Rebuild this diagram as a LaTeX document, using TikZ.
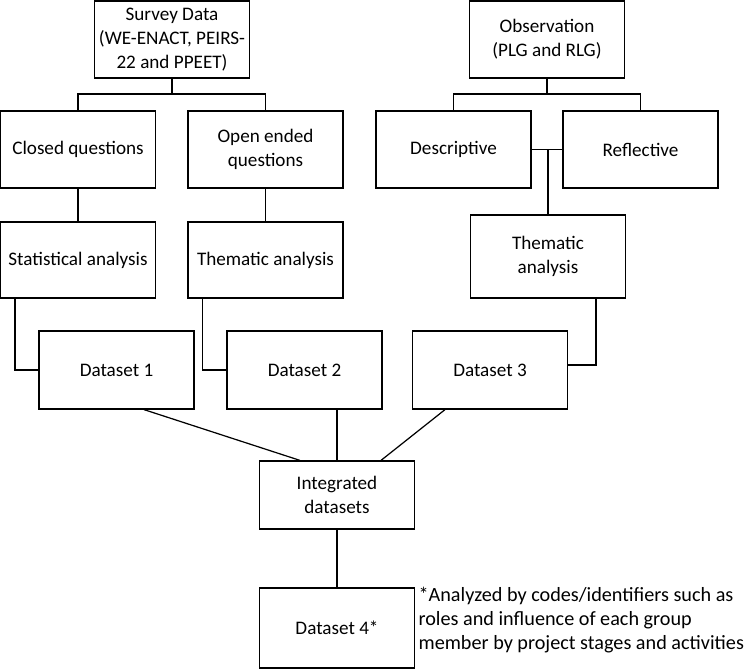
\documentclass[tikz,border=0pt]{standalone}
\usepackage{fontspec}
\setmainfont{Carlito}
\begin{document}
\begin{tikzpicture}[x=0.02cm,y=-0.02cm,line width=0.7pt,
  box/.style={draw,align=center,minimum width=3.1cm,minimum height=1.54cm,
    inner xsep=0.5pt,inner ysep=1pt,font=\fontsize{10.9}{13.5}\selectfont}]
  \useasboundingbox (0,0) rectangle (750,670);

  % sources
  \node[box] (sd) at (172,39.5) {Survey Data\\(WE-ENACT, PEIRS-\\22 and PPEET)};
  \node[box] (ob) at (547,39.5) {Observation\\(PLG and RLG)};
  \coordinate (sj) at (172,94);
  \coordinate (oj) at (547,94);

  \node[box] (cq) at (78,149.5)    {Closed questions};
  \node[box] (oq) at (265.5,149.5) {Open ended\\questions};
  \node[box] (de) at (453.5,149.5) {Descriptive};
  \node[box] (re) at (640.5,149.5) {Reflective};

  \node[box,minimum height=1.52cm] (sa) at (78,260)    {Statistical analysis};
  \node[box,minimum height=1.52cm] (ta) at (265.5,260) {Thematic analysis};
  \node[box,minimum height=1.66cm] (tb) at (548,256.5) {Thematic\\analysis};

  \node[box,minimum height=1.56cm] (d1) at (116.5,370) {Dataset 1};
  \node[box,minimum height=1.56cm] (d2) at (304.5,370) {Dataset 2};
  \node[box,minimum height=1.56cm] (d3) at (490,370)   {Dataset 3};

  \node[box,minimum height=1.36cm] (ig) at (337,495) {Integrated\\datasets};
  \node[box,minimum height=1.6cm]  (d4) at (337,628) {Dataset 4*};

  \node[anchor=north west,align=left,inner sep=0pt,font=\fontsize{11.5}{13.4}\selectfont]
    (nt) at (418,587) {*Analyzed by codes/identifiers such as\\roles and influence of each group\\member by project stages and activities};

  % branches
  \draw (sd) -- (sj) -| (cq);
  \draw (sj) -| (oq);
  \draw (ob) -- (oj) -| (de);
  \draw (oj) -| (re);
  \draw (cq) -- (sa);
  \draw (oq) -- (ta);
  \draw (de.east) -- (re.west);
  \draw (tb.north) -- (tb.north |- de.east);

  % to the datasets
  \draw ([xshift=0.3cm]sa.south west) |- (d1.west);
  \draw ([xshift=0.3cm]ta.south west) |- (d2.west);
  \draw ([xshift=-0.6cm]tb.south east) |- ([yshift=0.1cm]d3.east);

  % integration
  \draw ([xshift=0.55cm]d1.south) -- ([xshift=-0.74cm]ig.north);
  \draw (d2.south -| ig.north) -- (ig.north);
  \draw ([xshift=-0.9cm]d3.south) -- ([xshift=0.88cm]ig.north);
  \draw (ig) -- (d4);
\end{tikzpicture}
\end{document}
